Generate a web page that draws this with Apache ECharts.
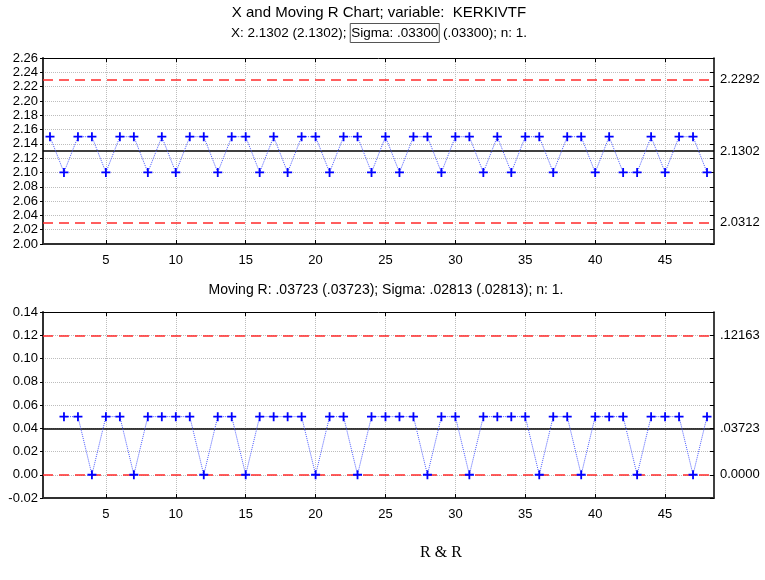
<!DOCTYPE html>
<html><head><meta charset="utf-8">
<script src="https://cdn.jsdelivr.net/npm/echarts@6/dist/echarts.min.js"></script>
<style>html,body{margin:0;padding:0;background:#fff}#c{width:765px;height:580px}</style>
</head><body><div id="c"></div>
<script>
// ---- data ----
const sampleNo = [1,2,3,4,5,6,7,8,9,10,11,12,13,14,15,16,17,18,19,20,21,22,23,24,25,26,27,28,29,30,31,32,33,34,35,36,37,38,39,40,41,42,43,44,45,46,47,48];
const xValues = [2.15,2.10,2.15,2.15,2.10,2.15,2.15,2.10,2.15,2.10,2.15,2.15,2.10,2.15,2.15,2.10,2.15,2.10,2.15,2.15,2.10,2.15,2.15,2.10,
                 2.15,2.10,2.15,2.15,2.10,2.15,2.15,2.10,2.15,2.10,2.15,2.15,2.10,2.15,2.15,2.10,2.15,2.10,2.10,2.15,2.10,2.15,2.15,2.10];
const mrValues = [null,0.05,0.05,0,0.05,0.05,0,0.05,0.05,0.05,0.05,0,0.05,0.05,0,0.05,0.05,0.05,0.05,0,0.05,0.05,0,0.05,
                  0.05,0.05,0.05,0,0.05,0.05,0,0.05,0.05,0.05,0.05,0,0.05,0.05,0,0.05,0.05,0.05,0,0.05,0.05,0.05,0,0.05];
const xTickValues = [5,10,15,20,25,30,35,40,45];
const xControlLimits = [2.2292, 2.0312];
const xControlLabels = ['2.2292', '2.0312'];
const xCenterValue = 2.1302;
const xCenterLabel = '2.1302';
const mrControlLimits = [0.12163, 0];
const mrControlLabels = ['.12163', '0.0000'];
const mrCenterValue = 0.03723;
const mrCenterLabel = '.03723';

const FONT = 'Liberation Sans, Arial, sans-serif';
const plus = 'path://M4,0H6V4H10V6H6V10H4V6H0V4H4Z';

const labelStyle = {show: true, position: 'end', color: '#000', fontSize: 13, fontFamily: FONT, distance: 6};

function limitSeries(xi, yi, vals, labels) {
  return {type: 'line', xAxisIndex: xi, yAxisIndex: yi, data: [], z: 3,
    markLine: {silent: true, symbol: ['none', 'none'], animation: false,
      lineStyle: {color: '#ff2a2a', type: [10, 6], width: 1.5, opacity: 1},
      label: labelStyle,
      data: vals.map((v, i) => ({yAxis: v, label: {formatter: labels[i]}}))}};
}
function centerSeries(xi, yi, val, label) {
  return {type: 'line', xAxisIndex: xi, yAxisIndex: yi, data: [], z: 3,
    markLine: {silent: true, symbol: ['none', 'none'], animation: false,
      lineStyle: {color: '#000', type: 'solid', width: 1.5, opacity: 1},
      label: labelStyle,
      data: [{yAxis: val, label: {formatter: label}}]}};
}

function xAxes(gi) {
  return [
    {type: 'value', gridIndex: gi, min: 0.5, max: 48.5, position: 'bottom',
     axisLine: {show: true, onZero: false, lineStyle: {color: '#303030', width: 2}},
     axisTick: {show: true, inside: true, length: 4, customValues: xTickValues, lineStyle: {color: '#000'}},
     axisLabel: {show: true, customValues: xTickValues, color: '#000', fontSize: 13, fontFamily: FONT, margin: 10},
     splitLine: {show: true, lineStyle: {color: '#bdbdbd', type: 'dotted', width: 1}}},
    {type: 'value', gridIndex: gi, min: 0.5, max: 48.5, position: 'top',
     axisLine: {show: true, onZero: false, lineStyle: {color: '#000', width: 1}},
     axisTick: {show: true, inside: true, length: 4, customValues: xTickValues, lineStyle: {color: '#000'}},
     axisLabel: {show: false}, splitLine: {show: false}}
  ];
}

function yAxes(gi, min, max) {
  return [
    {type: 'value', gridIndex: gi, min: min, max: max, interval: 0.02, position: 'left',
     axisLine: {show: true, onZero: false, lineStyle: {color: '#303030', width: 2}},
     axisTick: {show: true, inside: false, length: 3, lineStyle: {color: '#000'}},
     axisLabel: {color: '#000', fontSize: 13, fontFamily: FONT, margin: 5, formatter: v => v.toFixed(2)},
     splitLine: {show: true, lineStyle: {color: '#bdbdbd', type: 'dotted', width: 1}}},
    {type: 'value', gridIndex: gi, min: min, max: max, interval: 0.02, position: 'right',
     axisLine: {show: true, onZero: false, lineStyle: {color: '#000', width: 1.5}},
     axisTick: {show: true, inside: true, length: 4, lineStyle: {color: '#000'}},
     axisLabel: {show: false}, splitLine: {show: false}}
  ];
}

const dataLine = {color: '#4d5cff', width: 1, type: 'dotted'};

const chart = echarts.init(document.getElementById('c'), null, {renderer: 'canvas'});
chart.setOption({
  animation: false,
  backgroundColor: '#fff',
  grid: [
    {left: 43, right: 51, top: 58, height: 186},
    {left: 43, right: 51, top: 312, height: 186}
  ],
  xAxis: [...xAxes(0), ...xAxes(1)],
  yAxis: [...yAxes(0, 2.00, 2.26), ...yAxes(1, -0.02, 0.14)],
  series: [
    limitSeries(0, 0, xControlLimits, xControlLabels),
    centerSeries(0, 0, xCenterValue, xCenterLabel),
    limitSeries(2, 2, mrControlLimits, mrControlLabels),
    centerSeries(2, 2, mrCenterValue, mrCenterLabel),
    {type: 'line', xAxisIndex: 0, yAxisIndex: 0, z: 5,
     data: sampleNo.map((n, i) => [n, xValues[i]]),
     symbol: plus, symbolSize: 9, showAllSymbol: true,
     itemStyle: {color: '#0000ff'}, lineStyle: dataLine},
    {type: 'line', xAxisIndex: 2, yAxisIndex: 2, z: 5,
     data: sampleNo.map((n, i) => [n, mrValues[i]]),
     symbol: plus, symbolSize: 9, showAllSymbol: true, connectNulls: false,
     itemStyle: {color: '#0000ff'}, lineStyle: dataLine}
  ],
  graphic: [
    {type: 'text', x: 379, y: 13,
     style: {text: 'X and Moving R Chart; variable:  KERKIVTF', align: 'center', verticalAlign: 'middle',
             font: '15px ' + FONT, fill: '#000'}},
    {type: 'text', x: 379, y: 33,
     style: {text: '{a|X: 2.1302 (2.1302); }{b|Sigma: .03300}{a| (.03300); n: 1.}',
             align: 'center', verticalAlign: 'middle', font: '13.5px ' + FONT, fill: '#000',
             rich: {a: {fontSize: 13.5, fontFamily: FONT, fill: '#000'},
                    b: {fontSize: 13.5, fontFamily: FONT, fill: '#000', borderColor: '#555', borderWidth: 1, padding: [3, 1, 2, 1]}}}},
    {type: 'text', x: 386, y: 290,
     style: {text: 'Moving R: .03723 (.03723); Sigma: .02813 (.02813); n: 1.',
             align: 'center', verticalAlign: 'middle', font: '14px ' + FONT, fill: '#000'}},
    {type: 'text', x: 441, y: 553,
     style: {text: 'R & R', align: 'center', verticalAlign: 'middle',
             font: '16px Liberation Serif, Times New Roman, serif', fill: '#000'}}
  ]
});
</script>
</body></html>
